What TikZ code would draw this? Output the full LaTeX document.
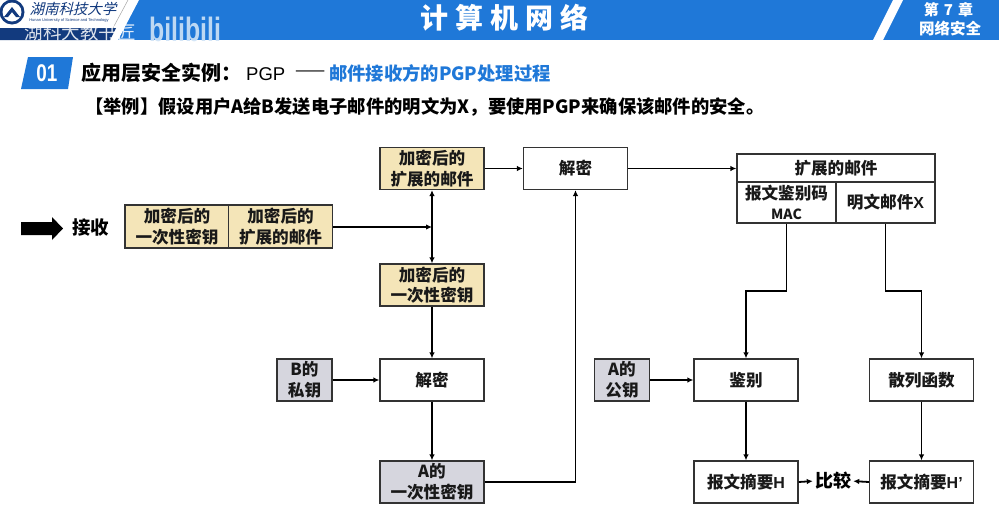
\documentclass[tikz,border=0pt]{standalone}
\usepackage{fontspec}
\setmainfont{Liberation Sans}
\newfontfamily\cjk{Noto Sans CJK SC}
\newfontfamily\cjkslant[FakeSlant=0.25]{Noto Sans CJK SC}
\usetikzlibrary{arrows.meta}
\definecolor{hdrblue}{HTML}{1F78D8}
\definecolor{navy}{HTML}{123A7E}
\definecolor{beige}{HTML}{F4E5B8}
\definecolor{keygray}{HTML}{D6D6DE}
\definecolor{edge}{HTML}{333333}
\definecolor{wmblue}{HTML}{CFE3F7}
\newcommand{\Z}[1]{{\cjk\bfseries #1}}
\newcommand{\Lat}[1]{{\rmfamily\fontsize{16}{20}\selectfont\bfseries #1}}
\tikzset{
  x=1pt,y=-1pt,
  boxbase/.style={draw=edge,line width=1.2pt,inner sep=0pt,align=center,font=\fontsize{16.6}{20.5}\selectfont\cjk\bfseries,text=black!90},
  plainbox/.style={boxbase,fill=white,minimum width=104pt,minimum height=42pt},
  encbox/.style={boxbase,fill=beige,minimum width=104pt,minimum height=42pt},
  keybox/.style={boxbase,fill=keygray,minimum width=104pt,minimum height=42pt},
  smallkey/.style={keybox,minimum width=55pt},
  conn/.style={draw=black,line width=1.8pt,-{Latex[length=6pt,width=5.5pt]}},
  lab/.style={inner sep=0pt,text=black}
}
\begin{document}
\begin{tikzpicture}
\useasboundingbox (0,0) rectangle (999,520);
\fill[white] (0,0) rectangle (999,520);
% header band
\fill[hdrblue] (0,0) rectangle (999,40);
\fill[white] (0,0) -- (139,0) -- (118,40) -- (0,40) -- cycle;
\fill[navy] (0,28) -- (116,28) -- (110,40) -- (0,40) -- cycle;
\draw[black!35,line width=.5pt] (128,0) -- (113,28);
\fill[white] (893,0) -- (903,0) -- (883,40) -- (873,40) -- cycle;
% logo
\fill[navy] (12,12) circle (12.5);
\fill[white] (12,12) circle (9.5);
\fill[navy] (4,17) -- (12,7) -- (20,17) -- (16,17) -- (12,12) -- (8,17) -- cycle;
\node[lab,text=navy,font=\fontsize{14.5}{16}\selectfont\cjkslant] (uni) at (73,9) {湖南科技大学};
\node[lab,text=navy,font=\fontsize{4}{5}\selectfont] (unien) at (69,20.5) {Hunan University of Science and Technology};
\begin{scope}
\clip (0,0) rectangle (999,40);
\node[lab,text=white,opacity=.85,font=\fontsize{18.5}{20}\selectfont\cjk] (wm) at (80,32) {湖科大教书匠};
\end{scope}
\node[lab,text=wmblue,opacity=.9,font=\fontsize{27}{28}\selectfont\bfseries] (bili) at (185,29) {\scalebox{.92}[1.25]{bilibili}};
\node[lab,text=white,font=\fontsize{28}{30}\selectfont\cjk\bfseries] (title) at (504,18) {计\hspace{7pt}算\hspace{7pt}机\hspace{7pt}网\hspace{7pt}络};
\node[lab,text=white,font=\fontsize{15}{17}\selectfont\cjk\bfseries] (ch1) at (948.5,10) {第\hspace{5pt}7\hspace{5pt}章};
\node[lab,text=white,font=\fontsize{15.5}{17}\selectfont\cjk\bfseries] (ch2) at (950,29) {网络安全};
% section heading
\fill[hdrblue] (28,57) -- (73,57) -- (68,89) -- (21,89) -- cycle;
\node[lab,text=white,font=\fontsize{21}{22}\selectfont\bfseries] (num) at (47,73) {\scalebox{.9}[1.15]{01}};
\node[lab,anchor=west,font=\fontsize{20}{22}\selectfont] (sec) at (81,73) {\Z{应用层安全实例：}\hspace{5pt}{\fontsize{18.5}{22}\selectfont PGP}};
\node[lab,anchor=west,font=\fontsize{18}{22}\selectfont\cjk] (dash) at (295,73.5) {——};
\node[lab,anchor=west,text=hdrblue,font=\fontsize{18.3}{22}\selectfont\cjk\bfseries] (sub) at (329,73) {邮件接收方的PGP处理过程};
\node[lab,anchor=west,font=\fontsize{18.3}{22}\selectfont\cjk\bfseries] (ex) at (85,107) {【举例】假设用户A给B发送电子邮件的明文为X，要使用PGP来确保该邮件的安全。};
% receive
\fill[black] (21,222) -- (52,222) -- (52,217) -- (63,228.5) -- (52,240) -- (52,235) -- (21,235) -- cycle;
\node[lab,font=\fontsize{18.5}{20}\selectfont\cjk\bfseries] (recv) at (90.5,228) {接收};
% nodes
\node[encbox,minimum height=43pt] (pk) at (177,226.5) {加密后的\\一次性密钥};
\node[encbox,minimum height=43pt] (pm) at (280.5,226.5) {加密后的\\扩展的邮件};
\node[encbox] (em) at (432,168.5) {加密后的\\扩展的邮件};
\node[encbox] (ek) at (432,285) {加密后的\\一次性密钥};
\node[plainbox] (d1) at (432,380) {解密};
\node[smallkey] (bk) at (304.5,380) {B的\\私钥};
\node[keybox] (ak) at (432,482) {A的\\一次性密钥};
\node[plainbox] (d2) at (575.5,168.5) {解密};
\node[boxbase,fill=white,minimum width=198pt,minimum height=28pt] (xm) at (836,168) {扩展的邮件};
\node[boxbase,fill=white,minimum width=99pt,minimum height=41pt] (mac) at (786.5,202.5) {报文鉴别码\\{\fontsize{14}{17}\selectfont MAC}};
\node[boxbase,fill=white,minimum width=99pt,minimum height=41pt] (px) at (885.5,202.5) {明文邮件\Lat{X}};
\node[smallkey] (apk) at (622,380) {A的\\公钥};
\node[plainbox] (ver) at (746,380) {鉴别};
\node[plainbox] (hf) at (921.5,380) {散列函数};
\node[plainbox] (hh) at (746,482) {报文摘要\Lat{H}};
\node[plainbox] (hp) at (921.5,482) {报文摘要\Lat{H’}};
\node[lab,font=\fontsize{18}{20}\selectfont\cjk\bfseries] (cmp) at (833,481) {比较};
% connectors
\coordinate (j) at (432,227);
\coordinate (macb) at (786.5,291);
\coordinate (xb) at (885.5,291);
\draw[conn] (pm.east |- j) -- (j);
\draw[conn] (j) -- (em.south);
\draw[conn] (j) -- (ek.north);
\draw[conn] (ek.south) -- (d1.north);
\draw[conn] (bk.east) -- (d1.west);
\draw[conn] (d1.south) -- (ak.north);
\draw[conn] (ak.east) -| (d2.south);
\draw[conn] (em.east) -- (d2.west);
\draw[conn] (d2.east) -- (d2.east -| xm.west);
\draw[conn] (mac.south) -- (macb) -| (ver.north);
\draw[conn] (px.south) -- (xb) -| (hf.north);
\draw[conn] (apk.east) -- (ver.west);
\draw[conn] (ver.south) -- (hh.north);
\draw[conn] (hf.south) -- (hp.north);
\draw[conn,shorten >=2pt] (hh.east) -- (cmp.west);
\draw[conn,shorten >=2pt] (hp.west) -- (cmp.east);
\end{tikzpicture}
\end{document}
